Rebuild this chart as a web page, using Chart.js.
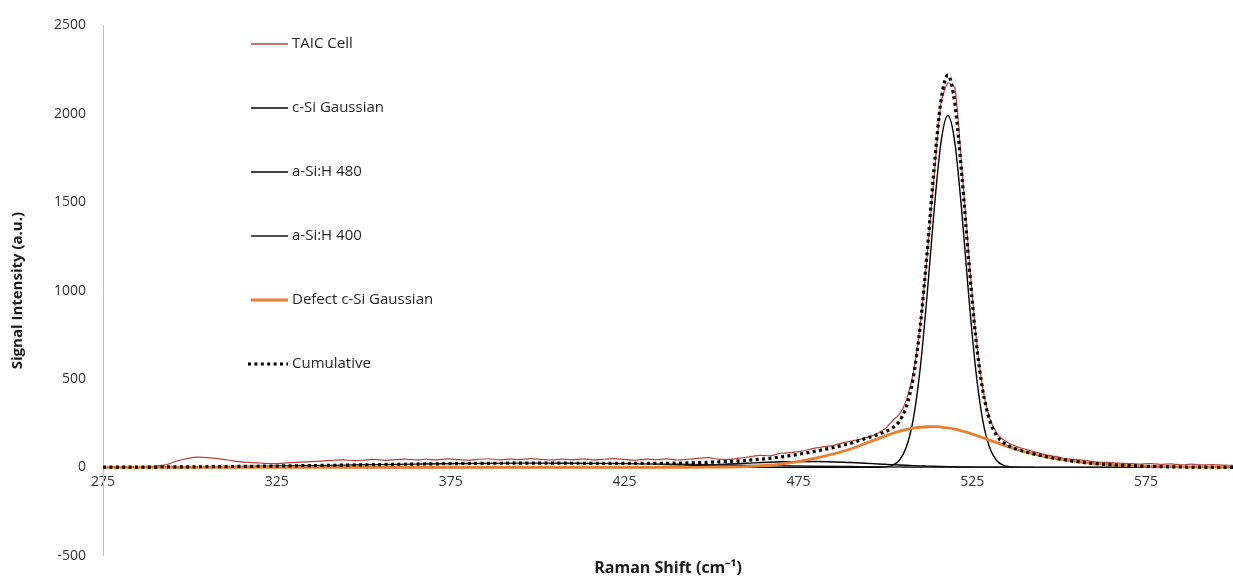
<!doctype html>
<html lang="en">
  <head>
    <meta charset="UTF-8" />
    <title>Raman spectrum fit</title>
    <script src="https://cdn.jsdelivr.net/npm/chart.js"></script>
    <style>
      body {
        margin: 0;
        background: #fff;
      }
    </style>
  </head>
  <body>
    <canvas id="ramanChart" width="1233" height="582"></canvas>

    <script>
      // axis ticks
      const xTicks = [275, 325, 375, 425, 475, 525, 575];
      const yTicks = [-500, 0, 500, 1000, 1500, 2000, 2500];

      // measured spectrum (TAIC Cell)
      const taicShift = [
        275, 278, 281, 284, 287, 290, 293, 296, 299, 302, 305, 308, 311, 314,
        317, 320, 323, 326, 329, 332, 335, 338, 341, 344, 347, 350, 353, 356,
        359, 362, 365, 368, 371, 374, 377, 380, 383, 386, 389, 392, 395, 398,
        401, 404, 407, 410, 413, 416, 419, 422, 425, 428, 431, 434, 437, 440,
        443, 446, 449, 452, 455, 458, 461, 464, 467, 470, 473, 476, 479, 482,
        485, 488, 491, 494, 496, 498, 500, 502, 504, 506, 508, 510, 512, 514,
        516, 518, 520, 522, 524, 526, 528, 530, 532, 534, 536, 538, 540, 543,
        546, 549, 552, 555, 558, 561, 564, 567, 570, 573, 576, 579, 582, 585,
        588, 591, 594, 597, 600,
      ];
      const taicCell = [
        4, 3, 5, 3, 6, 8, 14, 35, 50, 58, 55, 50, 42, 33, 28, 25, 22, 23, 27,
        30, 33, 36, 40, 43, 38, 41, 45, 40, 44, 47, 42, 46, 43, 48, 44, 41, 46,
        49, 43, 47, 44, 50, 45, 42, 47, 44, 48, 43, 46, 50, 45, 41, 47, 44, 48,
        42, 46, 51, 55, 47, 45, 52, 60, 68, 66, 80, 84, 92, 106, 116, 124, 140,
        152, 166, 178, 196, 220, 262, 300, 378, 530, 800, 1190, 1640, 2060,
        2175, 2150, 1700, 1210, 760, 450, 280, 196, 156, 132, 116, 104, 88, 72,
        62, 50, 44, 38, 30, 28, 24, 22, 19, 22, 17, 20, 15, 18, 14, 16, 13, 12,
      ];

      // fitted components
      const fitShift = [
        275, 290, 305, 320, 335, 350, 365, 380, 395, 410, 425, 440, 450, 460,
        470, 480, 490, 494, 498, 500, 502, 504, 506, 508, 510, 512, 514, 516,
        518, 520, 522, 524, 526, 528, 530, 532, 534, 536, 538, 542, 546, 550,
        555, 560, 570, 580, 590, 600,
      ];
      const cSiGaussian = [
        0, 0, 0, 0, 0, 0, 0, 0, 0, 0, 0, 0, 0, 0, 0, 0, 0, 0, 0.7, 3, 12, 39,
        112, 269, 553, 969, 1445, 1837, 1990, 1837, 1445, 969, 553, 269, 112,
        39, 12, 3, 0.7, 0, 0, 0, 0, 0, 0, 0, 0, 0,
      ];
      const aSiH480 = [
        0, 0, 0, 0, 0, 0, 0, 0, 0, 0.1, 1.2, 6.1, 13.7, 23.7, 32, 33.6, 27.5,
        23.7, 19.6, 17.6, 15.6, 13.7, 11.9, 10.2, 8.7, 7.4, 6.1, 5.1, 4.2, 3.4,
        2.7, 2.1, 1.7, 1.3, 1.0, 0.8, 0.6, 0.45, 0.35, 0.2, 0.1, 0, 0, 0, 0, 0,
        0, 0,
      ];
      const aSiH400 = [
        1.1, 2.1, 3.9, 6.7, 10.3, 14.6, 18.8, 22.2, 23.9, 23.5, 21.2, 17.4,
        14.6, 11.7, 9, 6.7, 4.8, 4.1, 3.5, 3.2, 3.0, 2.8, 2.5, 2.3, 2.1, 1.9,
        1.8, 1.6, 1.5, 1.35, 1.2, 1.1, 1.0, 0.9, 0.8, 0.75, 0.7, 0.6, 0.55,
        0.45, 0.35, 0.3, 0.2, 0.15, 0.1, 0.05, 0, 0,
      ];
      const defectGaussian = [
        0, 0, 0, 0, 0, 0, 0, 0, 0, 0, 0, 0.3, 1, 4, 18, 52, 104, 134, 163, 178,
        192, 204, 214, 222, 227, 230, 231, 228, 223, 216, 206, 195, 182, 168,
        154, 140, 126, 113, 100, 79, 61, 47, 33, 22, 10, 4, 1.5, 0.5,
      ];
      const cumulative = [
        1.1, 2.1, 3.9, 6.7, 10.3, 14.6, 18.8, 22.2, 23.9, 23.6, 22.4, 23.8,
        29.3, 39.4, 59, 92.3, 136.3, 161.8, 186.8, 201.8, 222.6, 259.5, 340.4,
        503.5, 790.8, 1208.3, 1683.9, 2071.7, 2218.7, 2057.8, 1654.9, 1167.2,
        737.7, 439.2, 267.8, 180.6, 139.3, 117.1, 101.6, 79.7, 61.5, 47.3,
        33.2, 22.2, 10.1, 4, 1.5, 0.5,
      ];

      function pairs(xs, ys) {
        return xs.map((x, i) => ({ x: x, y: ys[i] }));
      }

      const FONT = '"Open Sans", "Liberation Sans", sans-serif';

      // legend drawn inside the plot, one entry per row
      const sideLegend = {
        id: 'sideLegend',
        afterDraw(chart) {
          const ctx = chart.ctx;
          ctx.save();
          chart.data.datasets.forEach((ds, i) => {
            const y = 44 + i * 64;
            ctx.beginPath();
            ctx.strokeStyle = ds.borderColor;
            ctx.lineWidth = Math.max(ds.borderWidth, 1.5);
            ctx.setLineDash(ds.borderDash || []);
            ctx.moveTo(ds.borderDash ? 248 : 251, y);
            ctx.lineTo(288, y);
            ctx.stroke();
            ctx.setLineDash([]);
            ctx.fillStyle = '#262626';
            ctx.font = '15px ' + FONT;
            ctx.textBaseline = 'middle';
            ctx.fillText(ds.label, 292, y);
          });
          ctx.restore();
        },
      };

      const lineBase = {
        pointRadius: 0,
        fill: false,
        showLine: true,
        cubicInterpolationMode: 'monotone',
      };

      new Chart(document.getElementById('ramanChart'), {
        type: 'scatter',
        data: {
          datasets: [
            {
              ...lineBase,
              label: 'TAIC Cell',
              data: pairs(taicShift, taicCell),
              borderColor: '#b5433d',
              borderWidth: 1.2,
              cubicInterpolationMode: 'default',
              tension: 0.2,
              order: 6,
            },
            {
              ...lineBase,
              label: 'c-Si Gaussian',
              data: pairs(fitShift, cSiGaussian),
              borderColor: '#000000',
              borderWidth: 1.4,
              order: 5,
            },
            {
              ...lineBase,
              label: 'a-Si:H 480',
              data: pairs(fitShift, aSiH480),
              borderColor: '#000000',
              borderWidth: 1.4,
              order: 4,
            },
            {
              ...lineBase,
              label: 'a-Si:H 400',
              data: pairs(fitShift, aSiH400),
              borderColor: '#1a1a1a',
              borderWidth: 1.4,
              order: 3,
            },
            {
              ...lineBase,
              label: 'Defect c-Si Gaussian',
              data: pairs(fitShift, defectGaussian),
              borderColor: '#ea7d2f',
              borderWidth: 2.8,
              order: 2,
            },
            {
              ...lineBase,
              label: 'Cumulative',
              data: pairs(fitShift, cumulative),
              borderColor: '#000000',
              borderWidth: 3.2,
              borderDash: [3, 3.4],
              order: 1,
            },
          ],
        },
        options: {
          responsive: false,
          animation: false,
          layout: { padding: { top: 19, right: 0, left: 0, bottom: 0 } },
          plugins: {
            legend: { display: false },
            tooltip: { enabled: false },
          },
          scales: {
            x: {
              type: 'linear',
              position: { y: 0 },
              min: 275,
              max: 600,
              afterBuildTicks: (scale) => {
                scale.ticks = xTicks.map((v) => ({ value: v }));
              },
              grid: { display: false, drawTicks: false },
              border: { display: true, color: '#bfbfbf', width: 1 },
              ticks: {
                padding: 6,
                color: '#333333',
                font: { family: FONT, size: 14 },
                maxRotation: 0,
                callback: (v) => String(v),
              },
            },
            xTitle: {
              type: 'linear',
              position: 'bottom',
              min: 275,
              max: 600,
              grid: { display: false, drawTicks: false },
              border: { display: false },
              ticks: { display: false },
              title: {
                display: true,
                text: 'Raman Shift (cm⁻¹)',
                color: '#1a1a1a',
                font: { family: FONT, size: 16, weight: 'bold' },
                padding: { top: 3, bottom: 4 },
              },
            },
            y: {
              min: -500,
              max: 2500,
              afterBuildTicks: (scale) => {
                scale.ticks = yTicks.map((v) => ({ value: v }));
              },
              afterFit: (scale) => {
                scale.width = 103;
              },
              grid: { display: false, drawTicks: false },
              border: { display: true, color: '#bfbfbf', width: 1 },
              ticks: {
                padding: 17,
                color: '#333333',
                font: { family: FONT, size: 14 },
                callback: (v) => String(v),
              },
              title: {
                display: true,
                text: 'Signal Intensity (a.u.)',
                color: '#1a1a1a',
                font: { family: FONT, size: 15, weight: 'bold' },
                padding: { top: 9, bottom: 0 },
              },
            },
          },
        },
        plugins: [sideLegend],
      });
    </script>
  </body>
</html>
